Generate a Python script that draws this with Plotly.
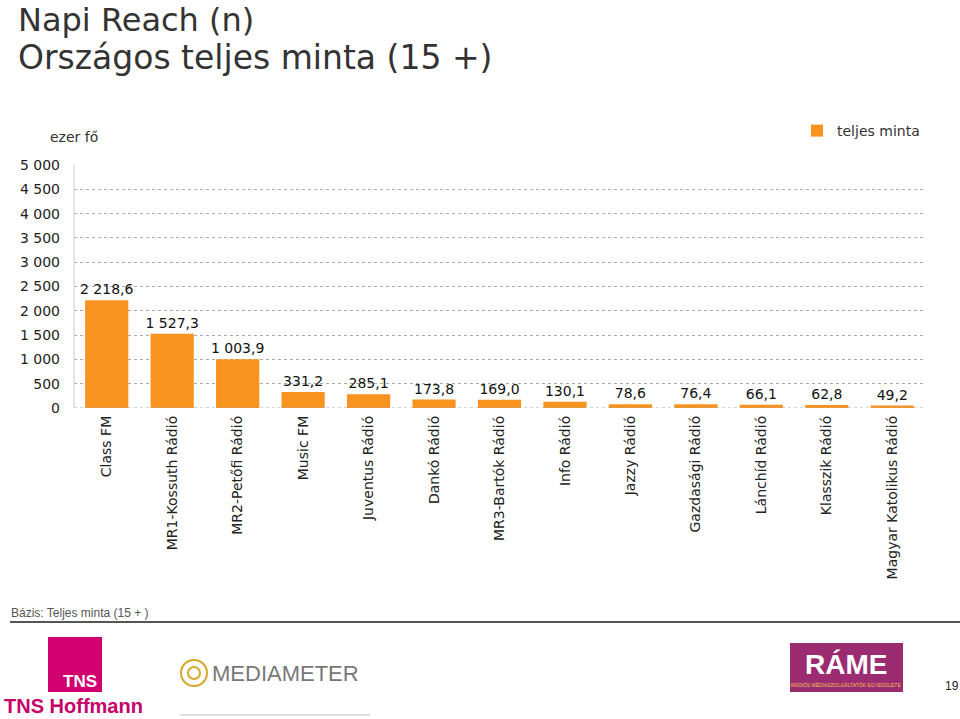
import plotly.graph_objects as go

categories = ["Class FM", "MR1-Kossuth Rádió", "MR2-Petőfi Rádió", "Music FM",
              "Juventus Rádió", "Dankó Rádió", "MR3-Bartók Rádió", "Info Rádió",
              "Jazzy Rádió", "Gazdasági Rádió", "Lánchíd Rádió", "Klasszik Rádió",
              "Magyar Katolikus Rádió"]
values = [2218.6, 1527.3, 1003.9, 331.2, 285.1, 173.8, 169.0, 130.1,
          78.6, 76.4, 66.1, 62.8, 49.2]
tick_vals = [0, 500, 1000, 1500, 2000, 2500, 3000, 3500, 4000, 4500, 5000]
tick_text = ["0", "500", "1 000", "1 500", "2 000", "2 500", "3 000",
             "3 500", "4 000", "4 500", "5 000"]
series_name = "teljes minta"


def hu(v):
    s = f"{v:,.1f}"
    return s.replace(",", " ").replace(".", ",")


labels = [hu(v) for v in values]

ORANGE = "#F7931E"
FONT = "DejaVu Sans"
NARROW = "Liberation Sans Narrow, Liberation Sans"

fig = go.Figure()
fig.add_trace(go.Bar(
    x=categories, y=values, name=series_name,
    marker=dict(color=ORANGE, line=dict(width=0)),
    text=labels, textposition="outside", cliponaxis=False,
    constraintext="none",
    textfont=dict(family=FONT, size=14, color="#111111"),
    showlegend=True,
))

fig.update_layout(
    width=960, height=719,
    margin=dict(l=74, r=35, t=165, b=311, pad=0),
    paper_bgcolor="white", plot_bgcolor="white",
    font=dict(family=FONT, size=14, color="#222222"),
    bargap=0.34,
    showlegend=True,
    legend=dict(x=1.0, xanchor="right", y=1.0 + 50 / 243, yanchor="top",
                font=dict(family=FONT, size=14, color="#333333"),
                bgcolor="rgba(0,0,0,0)", itemwidth=30),
    xaxis=dict(tickangle=-90, showgrid=False, showline=False, ticks="",
               automargin=False, ticklabelstandoff=4,
               tickfont=dict(family=FONT, size=14, color="#222222")),
    yaxis=dict(range=[0, 5000], tickvals=tick_vals, ticktext=tick_text,
               showgrid=True, gridcolor="#AAAAAA", griddash="dot", gridwidth=1,
               zeroline=False, showline=False, ticks="", ticklabelstandoff=13,
               automargin=False,
               tickfont=dict(family=FONT, size=14, color="#222222")),
)

# zero line (dotted like the grid) and left axis line
fig.add_shape(type="line", xref="paper", yref="y", x0=0, x1=1, y0=0, y1=0,
              line=dict(color="#AAAAAA", width=1, dash="dot"))
fig.add_shape(type="line", xref="paper", yref="paper", x0=0, x1=0, y0=0, y1=1,
              line=dict(color="#CCCCCC", width=1))


def px(x):
    return (x - 74) / 851


def py(y):
    return -(y - 408) / 243


def note(text, x, y, size, color, family=FONT, xanchor="center", yanchor="middle"):
    fig.add_annotation(text=text, xref="paper", yref="paper", x=px(x), y=py(y),
                       xanchor=xanchor, yanchor=yanchor, align="left", showarrow=False,
                       borderpad=0,
                       font=dict(family=family, size=size, color=color))


# title
note("Napi Reach (n)", 17, 20, 32, "#333333", xanchor="left")
note("Országos teljes minta (15 +)", 17, 58, 33, "#333333", xanchor="left")
# unit label
note("ezer fő", 49, 137, 14, "#333333", xanchor="left")

# footer
note("Bázis: Teljes minta (15 + )", 10, 613, 12, "#555555", family=NARROW, xanchor="left")
fig.add_shape(type="line", xref="paper", yref="paper",
              x0=px(10), x1=px(960), y0=py(622), y1=py(622),
              line=dict(color="#555555", width=2))

# TNS logo
fig.add_shape(type="rect", xref="paper", yref="paper",
              x0=px(48), x1=px(102), y0=py(692), y1=py(637),
              fillcolor="#D1006F", line=dict(width=0))
note("<b>TNS</b>", 80, 681, 17, "white", family=NARROW)
note("<b>TNS Hoffmann</b>", 73, 706, 20, "#C8006A", family=NARROW)
# Mediameter
fig.add_shape(type="circle", xref="paper", yref="paper",
              x0=px(181), x1=px(207), y0=py(686), y1=py(660),
              line=dict(color="#D4A82C", width=2))
fig.add_shape(type="circle", xref="paper", yref="paper",
              x0=px(188), x1=px(200), y0=py(679), y1=py(667),
              line=dict(color="#D4A82C", width=2))
note("MEDIAMETER", 211, 673, 22, "#777777", family=NARROW, xanchor="left")
fig.add_shape(type="line", xref="paper", yref="paper", x0=px(180), x1=px(370),
              y0=py(715), y1=py(715), line=dict(color="#DDDDDD", width=2))
# RAME
fig.add_shape(type="rect", xref="paper", yref="paper",
              x0=px(790), x1=px(903), y0=py(692), y1=py(643),
              fillcolor="#9C2C72", line=dict(width=0))
note("<b>RÁME</b>", 846, 664, 28, "white", family="Liberation Sans")
note("RÁDIÓS MÉDIASZOLGÁLTATÓK EGYESÜLETE", 846, 685, 5, "#F2C14E",
     family="Liberation Sans")
note("19", 952, 686, 12, "#222222", family=NARROW)

fig.write_html("out.html", config={"displayModeBar": False},
               post_script="document.body.style.margin='0';document.body.style.padding='0';")
